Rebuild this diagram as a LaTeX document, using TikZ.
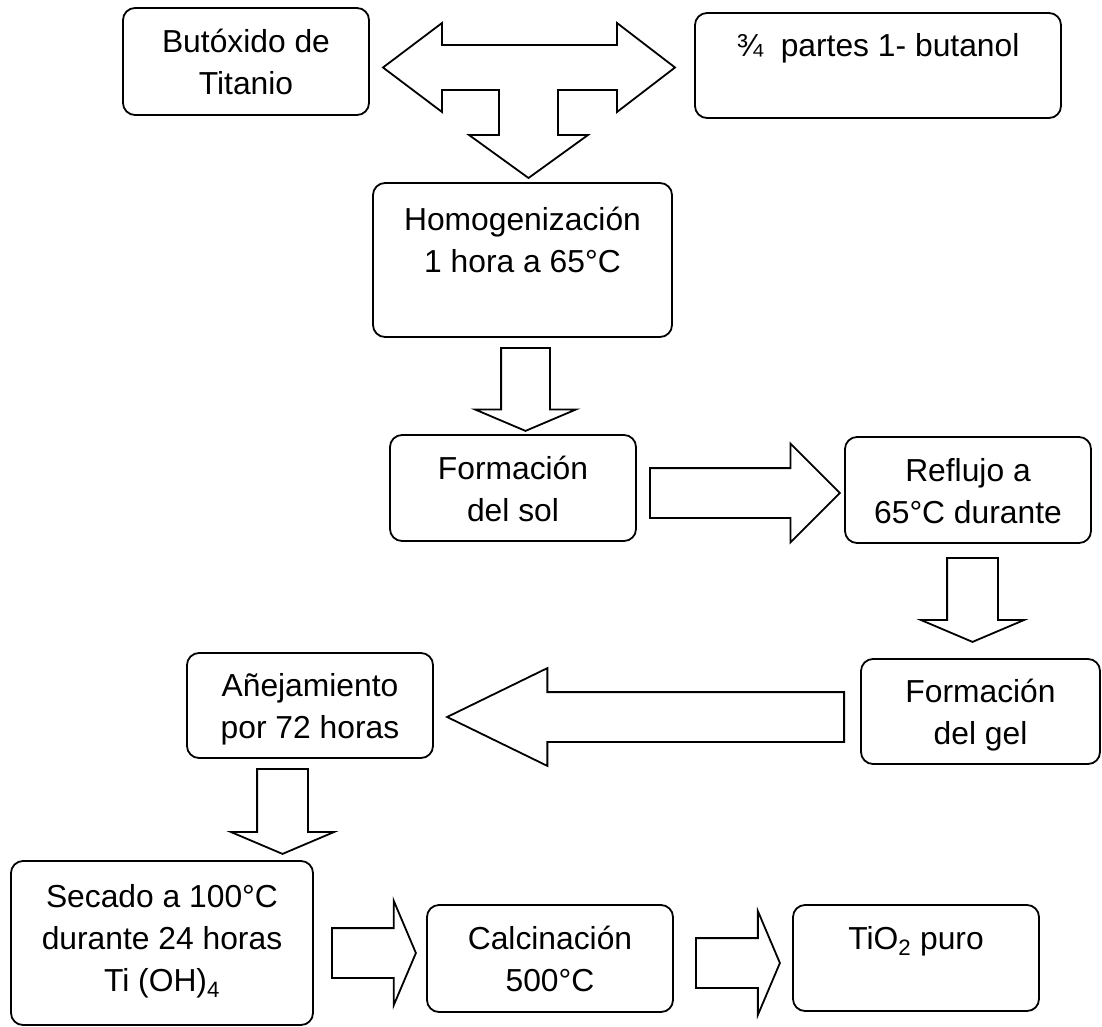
\documentclass[tikz,border=0pt]{standalone}
\usepackage{fontspec}
\setmainfont{Liberation Sans}
\usetikzlibrary{shapes.arrows,calc}
\newcommand{\renglon}{\rule[-9pt]{0pt}{42pt}}

\begin{document}
\begin{tikzpicture}[x=1pt,y=-1pt,
        caja/.style={draw, line width=1.8pt, rounded corners=12pt, align=center,
            inner sep=0pt, minimum width=246pt, minimum height=106pt,
            font=\fontsize{31.8}{42}\selectfont},
        flecha/.style={draw, line width=1.8pt, single arrow, single arrow head extend=26.5pt,
            single arrow tip angle=134, inner xsep=0pt, inner ysep=24pt, outer sep=0pt,
            minimum width=0pt, minimum height=84pt, anchor=tail}]
    \useasboundingbox (0,0) rectangle (1102,1027);
    % cajas
    \node[caja, minimum height=107pt] (butox) at (246,61.5) {\renglon Butóxido de\\\renglon Titanio};
    \node[caja, minimum width=366pt, minimum height=105pt] (tercios) at (878,65.5) {\renglon ¾~ partes 1- butanol\\\renglon};
    \node[caja, minimum width=299pt, minimum height=154pt] (homog) at (522.5,260) {\renglon Homogenización\\\renglon 1 hora a 65°C\\\renglon};
    \node[caja] (sol) at (513,488) {\renglon Formación\\\renglon del sol};
    \node[caja] (reflujo) at (968,490) {\renglon Reflujo a\\\renglon 65°C durante};
    \node[caja, minimum width=239pt, minimum height=105pt] (gel) at (980.5,711.5) {\renglon Formación\\\renglon del gel};
    \node[caja, minimum height=105pt] (anej) at (310,705.5) {\renglon Añejamiento\\\renglon por 72 horas};
    \node[caja, minimum width=302pt, minimum height=164pt] (secado) at (162,943) {\renglon Secado a 100°C\\\renglon durante 24 horas\\\renglon Ti (OH)\textsubscript{4}\rule[-21pt]{0pt}{0pt}};
    \node[caja, minimum height=107pt] (calc) at (550,958.5) {\renglon Calcinación\\\renglon 500°C};
    \node[caja] (tio) at (916,958) {\renglon TiO\textsubscript{2} puro\\\renglon};
    % flecha triple
    \coordinate (cruce) at (528.5,67.5);
    \draw[line width=1.8pt] ($(cruce)+(-145.5,0)$) -- ++(59,-44.5) -- ++(0,22) -- ++(175,0)
        -- ++(0,-22) -- ++(58,44.5) -- ++(-58,44.5) -- ++(0,-22) -- ++(-59,0) -- ++(0,45)
        -- ++(30,0) -- ++(-59.5,43) -- ++(-59.5,-43) -- ++(30,0) -- ++(0,-45) -- ++(-57,0)
        -- ++(0,22) -- cycle;
    % flechas
    \node[flecha, rotate=-90, inner ysep=23.5pt, single arrow head extend=26pt, minimum height=83pt] (f1) at ($(homog.south)+(3,10)$) {};
    \node[flecha, single arrow tip angle=90, single arrow head extend=24.5pt, minimum height=190pt] (f2) at ($(sol.east)+(13,5)$) {};
    \node[flecha, rotate=-90, inner ysep=24.5pt, single arrow head extend=26pt] (f3) at ($(reflujo.south)+(4.5,14)$) {};
    \node[flecha, rotate=180, single arrow tip angle=52, single arrow head extend=24pt, minimum height=397pt] (f4) at ($(gel.west)+(-16,5.5)$) {};
    \node[flecha, rotate=-90, inner ysep=24.5pt, single arrow head extend=26pt, minimum height=85pt] (f5) at ($(anej.south)+(-27.5,10)$) {};
    \node[flecha, single arrow head extend=27.5pt] (f6) at ($(secado.east)+(18,10)$) {};
    \node[flecha, single arrow head extend=27pt] (f7) at ($(calc.east)+(22,4.5)$) {};
\end{tikzpicture}
\end{document}
